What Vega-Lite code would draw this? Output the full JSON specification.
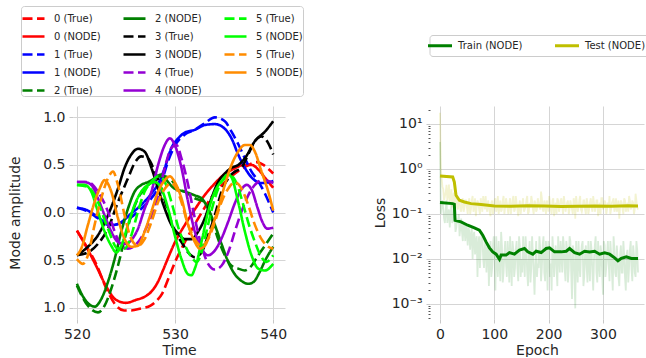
{
 "$schema": "https://vega.github.io/schema/vega-lite/v6.json",
 "padding": {"left": 8, "top": 5, "right": 0, "bottom": 0},
 "bounds": "flush",
 "spacing": 145,
 "config": {
  "font": "DejaVu Sans",
  "view": {"stroke": null},
  "axis": {"domain": false, "gridColor": "#d5d5d5", "gridWidth": 1, "tickColor": "#c8c8c8", "tickSize": 4, "labelFontSize": 14, "labelColor": "#262626", "titleFontSize": 14, "titleFontWeight": "normal", "titleColor": "#262626", "labelPadding": 4}
 },
 "resolve": {"scale": {"x": "independent", "y": "independent", "color": "independent", "strokeDash": "independent"}},
 "hconcat": [
  {
   "width": 212, "height": 213,
   "data": {"values": [
    {"series":"0 (True)","t":520,"amp":-0.19},{"series":"0 (True)","t":521,"amp":-0.36},{"series":"0 (True)","t":522,"amp":-0.55},{"series":"0 (True)","t":523,"amp":-0.8},{"series":"0 (True)","t":524,"amp":-0.98},{"series":"0 (True)","t":524.8,"amp":-1.03},{"series":"0 (True)","t":525.5,"amp":-1.03},{"series":"0 (True)","t":526.5,"amp":-1.01},{"series":"0 (True)","t":527.5,"amp":-0.98},{"series":"0 (True)","t":528.2,"amp":-0.92},{"series":"0 (True)","t":528.7,"amp":-0.85},{"series":"0 (True)","t":529.3,"amp":-0.7},{"series":"0 (True)","t":530,"amp":-0.52},{"series":"0 (True)","t":530.8,"amp":-0.35},{"series":"0 (True)","t":531.7,"amp":-0.18},{"series":"0 (True)","t":532.6,"amp":-0.02},{"series":"0 (True)","t":533.5,"amp":0.13},{"series":"0 (True)","t":534.5,"amp":0.26},{"series":"0 (True)","t":535.5,"amp":0.36},{"series":"0 (True)","t":536.5,"amp":0.44},{"series":"0 (True)","t":537.5,"amp":0.5},{"series":"0 (True)","t":538.3,"amp":0.53},{"series":"0 (True)","t":539,"amp":0.5},{"series":"0 (True)","t":539.6,"amp":0.45},{"series":"0 (True)","t":540,"amp":0.41},
    {"series":"0 (NODE)","t":520,"amp":-0.19},{"series":"0 (NODE)","t":521,"amp":-0.37},{"series":"0 (NODE)","t":522,"amp":-0.57},{"series":"0 (NODE)","t":523,"amp":-0.78},{"series":"0 (NODE)","t":524,"amp":-0.92},{"series":"0 (NODE)","t":525,"amp":-0.95},{"series":"0 (NODE)","t":526,"amp":-0.92},{"series":"0 (NODE)","t":527,"amp":-0.88},{"series":"0 (NODE)","t":527.6,"amp":-0.83},{"series":"0 (NODE)","t":528.2,"amp":-0.74},{"series":"0 (NODE)","t":528.8,"amp":-0.6},{"series":"0 (NODE)","t":529.4,"amp":-0.45},{"series":"0 (NODE)","t":530,"amp":-0.31},{"series":"0 (NODE)","t":531,"amp":-0.13},{"series":"0 (NODE)","t":532,"amp":0.03},{"series":"0 (NODE)","t":533,"amp":0.18},{"series":"0 (NODE)","t":534,"amp":0.3},{"series":"0 (NODE)","t":535,"amp":0.4},{"series":"0 (NODE)","t":536,"amp":0.46},{"series":"0 (NODE)","t":537,"amp":0.5},{"series":"0 (NODE)","t":537.8,"amp":0.5},{"series":"0 (NODE)","t":538.5,"amp":0.45},{"series":"0 (NODE)","t":539.2,"amp":0.36},{"series":"0 (NODE)","t":540,"amp":0.26},
    {"series":"1 (True)","t":520,"amp":0.05},{"series":"1 (True)","t":521.12,"amp":0.01},{"series":"1 (True)","t":522.14,"amp":-0.06},{"series":"1 (True)","t":523.16,"amp":-0.13},{"series":"1 (True)","t":524.18,"amp":-0.12},{"series":"1 (True)","t":525.54,"amp":-0.05},{"series":"1 (True)","t":526.56,"amp":0.04},{"series":"1 (True)","t":527.59,"amp":0.15},{"series":"1 (True)","t":528.61,"amp":0.32},{"series":"1 (True)","t":529.29,"amp":0.54},{"series":"1 (True)","t":529.97,"amp":0.7},{"series":"1 (True)","t":530.99,"amp":0.82},{"series":"1 (True)","t":532.01,"amp":0.87},{"series":"1 (True)","t":533.03,"amp":0.94},{"series":"1 (True)","t":534.05,"amp":1.0},{"series":"1 (True)","t":535.07,"amp":0.96},{"series":"1 (True)","t":535.75,"amp":0.85},{"series":"1 (True)","t":536.43,"amp":0.72},{"series":"1 (True)","t":537.11,"amp":0.57},{"series":"1 (True)","t":537.79,"amp":0.43},{"series":"1 (True)","t":538.47,"amp":0.33},{"series":"1 (True)","t":539.15,"amp":0.2},{"series":"1 (True)","t":540,"amp":0.0},
    {"series":"1 (NODE)","t":520,"amp":0.05},{"series":"1 (NODE)","t":521.12,"amp":0.02},{"series":"1 (NODE)","t":522.14,"amp":-0.05},{"series":"1 (NODE)","t":523.16,"amp":-0.12},{"series":"1 (NODE)","t":523.84,"amp":-0.13},{"series":"1 (NODE)","t":524.52,"amp":-0.1},{"series":"1 (NODE)","t":525.54,"amp":-0.01},{"series":"1 (NODE)","t":526.56,"amp":0.08},{"series":"1 (NODE)","t":527.59,"amp":0.2},{"series":"1 (NODE)","t":528.27,"amp":0.3},{"series":"1 (NODE)","t":528.95,"amp":0.47},{"series":"1 (NODE)","t":529.63,"amp":0.68},{"series":"1 (NODE)","t":530.31,"amp":0.78},{"series":"1 (NODE)","t":530.99,"amp":0.84},{"series":"1 (NODE)","t":532.01,"amp":0.87},{"series":"1 (NODE)","t":533.03,"amp":0.92},{"series":"1 (NODE)","t":534.05,"amp":0.93},{"series":"1 (NODE)","t":535.07,"amp":0.88},{"series":"1 (NODE)","t":535.75,"amp":0.78},{"series":"1 (NODE)","t":536.43,"amp":0.61},{"series":"1 (NODE)","t":537.11,"amp":0.47},{"series":"1 (NODE)","t":537.79,"amp":0.37},{"series":"1 (NODE)","t":538.81,"amp":0.31},{"series":"1 (NODE)","t":540,"amp":0.33},
    {"series":"2 (True)","t":520,"amp":-0.77},{"series":"2 (True)","t":521.12,"amp":-0.98},{"series":"2 (True)","t":522.14,"amp":-1.05},{"series":"2 (True)","t":522.82,"amp":-0.98},{"series":"2 (True)","t":523.5,"amp":-0.8},{"series":"2 (True)","t":524.18,"amp":-0.56},{"series":"2 (True)","t":524.86,"amp":-0.28},{"series":"2 (True)","t":525.54,"amp":-0.03},{"series":"2 (True)","t":526.22,"amp":0.15},{"series":"2 (True)","t":526.9,"amp":0.25},{"series":"2 (True)","t":527.59,"amp":0.32},{"series":"2 (True)","t":528.27,"amp":0.38},{"series":"2 (True)","t":528.95,"amp":0.38},{"series":"2 (True)","t":529.63,"amp":0.34},{"series":"2 (True)","t":530.31,"amp":0.25},{"series":"2 (True)","t":530.99,"amp":0.22},{"series":"2 (True)","t":532.01,"amp":0.15},{"series":"2 (True)","t":533.03,"amp":0.11},{"series":"2 (True)","t":533.71,"amp":-0.06},{"series":"2 (True)","t":534.39,"amp":-0.28},{"series":"2 (True)","t":535.07,"amp":-0.45},{"series":"2 (True)","t":535.75,"amp":-0.56},{"series":"2 (True)","t":536.43,"amp":-0.59},{"series":"2 (True)","t":537.11,"amp":-0.61},{"series":"2 (True)","t":537.79,"amp":-0.56},{"series":"2 (True)","t":538.47,"amp":-0.45},{"series":"2 (True)","t":539.15,"amp":-0.35},{"series":"2 (True)","t":540,"amp":-0.22},
    {"series":"2 (NODE)","t":520,"amp":-0.75},{"series":"2 (NODE)","t":520.78,"amp":-0.91},{"series":"2 (NODE)","t":521.46,"amp":-0.98},{"series":"2 (NODE)","t":521.8,"amp":-0.99},{"series":"2 (NODE)","t":522.48,"amp":-0.91},{"series":"2 (NODE)","t":523.16,"amp":-0.73},{"series":"2 (NODE)","t":523.84,"amp":-0.49},{"series":"2 (NODE)","t":524.52,"amp":-0.2},{"series":"2 (NODE)","t":525.2,"amp":0.04},{"series":"2 (NODE)","t":525.88,"amp":0.22},{"series":"2 (NODE)","t":526.56,"amp":0.29},{"series":"2 (NODE)","t":527.24,"amp":0.32},{"series":"2 (NODE)","t":527.93,"amp":0.36},{"series":"2 (NODE)","t":528.61,"amp":0.4},{"series":"2 (NODE)","t":529.29,"amp":0.32},{"series":"2 (NODE)","t":529.97,"amp":0.25},{"series":"2 (NODE)","t":530.99,"amp":0.22},{"series":"2 (NODE)","t":532.01,"amp":0.18},{"series":"2 (NODE)","t":532.69,"amp":0.15},{"series":"2 (NODE)","t":533.37,"amp":0.04},{"series":"2 (NODE)","t":534.05,"amp":-0.13},{"series":"2 (NODE)","t":534.73,"amp":-0.33},{"series":"2 (NODE)","t":535.41,"amp":-0.52},{"series":"2 (NODE)","t":536.09,"amp":-0.65},{"series":"2 (NODE)","t":536.77,"amp":-0.72},{"series":"2 (NODE)","t":537.45,"amp":-0.75},{"series":"2 (NODE)","t":538,"amp":-0.73},{"series":"2 (NODE)","t":538.6,"amp":-0.63},{"series":"2 (NODE)","t":539.2,"amp":-0.5},{"series":"2 (NODE)","t":540,"amp":-0.36},
    {"series":"3 (True)","t":520,"amp":-0.45},{"series":"3 (True)","t":521.12,"amp":-0.42},{"series":"3 (True)","t":522.14,"amp":-0.33},{"series":"3 (True)","t":523.16,"amp":-0.17},{"series":"3 (True)","t":524.18,"amp":0.11},{"series":"3 (True)","t":525.2,"amp":0.36},{"series":"3 (True)","t":525.88,"amp":0.52},{"series":"3 (True)","t":526.56,"amp":0.59},{"series":"3 (True)","t":527.24,"amp":0.57},{"series":"3 (True)","t":527.93,"amp":0.43},{"series":"3 (True)","t":528.61,"amp":0.25},{"series":"3 (True)","t":529.29,"amp":0.01},{"series":"3 (True)","t":529.97,"amp":-0.2},{"series":"3 (True)","t":530.65,"amp":-0.31},{"series":"3 (True)","t":531.33,"amp":-0.42},{"series":"3 (True)","t":532.01,"amp":-0.47},{"series":"3 (True)","t":532.69,"amp":-0.42},{"series":"3 (True)","t":533.37,"amp":-0.24},{"series":"3 (True)","t":534.05,"amp":-0.03},{"series":"3 (True)","t":534.73,"amp":0.22},{"series":"3 (True)","t":535.41,"amp":0.36},{"series":"3 (True)","t":536.09,"amp":0.43},{"series":"3 (True)","t":536.77,"amp":0.47},{"series":"3 (True)","t":537.45,"amp":0.61},{"series":"3 (True)","t":538.13,"amp":0.75},{"series":"3 (True)","t":538.81,"amp":0.8},{"series":"3 (True)","t":539.49,"amp":0.73},{"series":"3 (True)","t":540,"amp":0.61},
    {"series":"3 (NODE)","t":520,"amp":-0.45},{"series":"3 (NODE)","t":521.12,"amp":-0.36},{"series":"3 (NODE)","t":522.14,"amp":-0.24},{"series":"3 (NODE)","t":523.16,"amp":-0.03},{"series":"3 (NODE)","t":524.18,"amp":0.25},{"series":"3 (NODE)","t":524.86,"amp":0.47},{"series":"3 (NODE)","t":525.54,"amp":0.61},{"series":"3 (NODE)","t":526.22,"amp":0.67},{"series":"3 (NODE)","t":526.9,"amp":0.64},{"series":"3 (NODE)","t":527.59,"amp":0.47},{"series":"3 (NODE)","t":528.27,"amp":0.25},{"series":"3 (NODE)","t":528.95,"amp":0.04},{"series":"3 (NODE)","t":529.63,"amp":-0.13},{"series":"3 (NODE)","t":530.31,"amp":-0.22},{"series":"3 (NODE)","t":530.99,"amp":-0.28},{"series":"3 (NODE)","t":531.67,"amp":-0.28},{"series":"3 (NODE)","t":532.35,"amp":-0.2},{"series":"3 (NODE)","t":533.03,"amp":-0.06},{"series":"3 (NODE)","t":533.71,"amp":0.15},{"series":"3 (NODE)","t":534.39,"amp":0.32},{"series":"3 (NODE)","t":535.07,"amp":0.41},{"series":"3 (NODE)","t":535.75,"amp":0.47},{"series":"3 (NODE)","t":536.43,"amp":0.5},{"series":"3 (NODE)","t":537.11,"amp":0.57},{"series":"3 (NODE)","t":538.13,"amp":0.75},{"series":"3 (NODE)","t":539.15,"amp":0.85},{"series":"3 (NODE)","t":540,"amp":0.96},
    {"series":"4 (True)","t":520,"amp":0.32},{"series":"4 (True)","t":521.12,"amp":0.32},{"series":"4 (True)","t":522.14,"amp":0.22},{"series":"4 (True)","t":523.16,"amp":0.01},{"series":"4 (True)","t":523.84,"amp":-0.2},{"series":"4 (True)","t":524.52,"amp":-0.35},{"series":"4 (True)","t":525.2,"amp":-0.38},{"series":"4 (True)","t":525.88,"amp":-0.35},{"series":"4 (True)","t":526.9,"amp":-0.2},{"series":"4 (True)","t":527.59,"amp":-0.03},{"series":"4 (True)","t":528.27,"amp":0.18},{"series":"4 (True)","t":528.95,"amp":0.47},{"series":"4 (True)","t":529.63,"amp":0.68},{"series":"4 (True)","t":530.14,"amp":0.71},{"series":"4 (True)","t":530.65,"amp":0.57},{"series":"4 (True)","t":531.33,"amp":0.29},{"series":"4 (True)","t":532.01,"amp":-0.06},{"series":"4 (True)","t":532.69,"amp":-0.35},{"series":"4 (True)","t":533.37,"amp":-0.54},{"series":"4 (True)","t":534.05,"amp":-0.6},{"series":"4 (True)","t":534.73,"amp":-0.56},{"series":"4 (True)","t":535.41,"amp":-0.42},{"series":"4 (True)","t":536.09,"amp":-0.2},{"series":"4 (True)","t":536.77,"amp":0.01},{"series":"4 (True)","t":537.45,"amp":0.18},{"series":"4 (True)","t":538.13,"amp":0.29},{"series":"4 (True)","t":538.81,"amp":0.34},{"series":"4 (True)","t":539.49,"amp":0.33},{"series":"4 (True)","t":540,"amp":0.31},
    {"series":"4 (NODE)","t":520,"amp":0.32},{"series":"4 (NODE)","t":520.78,"amp":0.32},{"series":"4 (NODE)","t":521.46,"amp":0.29},{"series":"4 (NODE)","t":522.14,"amp":0.15},{"series":"4 (NODE)","t":522.82,"amp":-0.03},{"series":"4 (NODE)","t":523.5,"amp":-0.2},{"series":"4 (NODE)","t":524.18,"amp":-0.31},{"series":"4 (NODE)","t":524.86,"amp":-0.33},{"series":"4 (NODE)","t":525.54,"amp":-0.29},{"series":"4 (NODE)","t":526.22,"amp":-0.17},{"series":"4 (NODE)","t":526.9,"amp":0.04},{"series":"4 (NODE)","t":527.59,"amp":0.22},{"series":"4 (NODE)","t":528.27,"amp":0.5},{"series":"4 (NODE)","t":528.95,"amp":0.71},{"series":"4 (NODE)","t":529.46,"amp":0.78},{"series":"4 (NODE)","t":529.97,"amp":0.71},{"series":"4 (NODE)","t":530.65,"amp":0.47},{"series":"4 (NODE)","t":531.33,"amp":0.11},{"series":"4 (NODE)","t":532.01,"amp":-0.2},{"series":"4 (NODE)","t":532.69,"amp":-0.38},{"series":"4 (NODE)","t":533.37,"amp":-0.45},{"series":"4 (NODE)","t":534.05,"amp":-0.4},{"series":"4 (NODE)","t":534.7,"amp":-0.28},{"series":"4 (NODE)","t":535.4,"amp":-0.1},{"series":"4 (NODE)","t":536.1,"amp":0.1},{"series":"4 (NODE)","t":536.8,"amp":0.25},{"series":"4 (NODE)","t":537.3,"amp":0.29},{"series":"4 (NODE)","t":537.8,"amp":0.24},{"series":"4 (NODE)","t":538.4,"amp":0.05},{"series":"4 (NODE)","t":538.9,"amp":-0.1},{"series":"4 (NODE)","t":539.4,"amp":-0.17},{"series":"4 (NODE)","t":540,"amp":-0.16},
    {"series":"5 (True)","t":520,"amp":0.29},{"series":"5 (True)","t":521.12,"amp":0.27},{"series":"5 (True)","t":522.14,"amp":0.11},{"series":"5 (True)","t":523.16,"amp":-0.17},{"series":"5 (True)","t":524.18,"amp":-0.38},{"series":"5 (True)","t":524.86,"amp":-0.38},{"series":"5 (True)","t":525.54,"amp":-0.24},{"series":"5 (True)","t":526.22,"amp":0.01},{"series":"5 (True)","t":526.9,"amp":0.22},{"series":"5 (True)","t":527.59,"amp":0.32},{"series":"5 (True)","t":528.27,"amp":0.38},{"series":"5 (True)","t":528.95,"amp":0.32},{"series":"5 (True)","t":529.63,"amp":0.11},{"series":"5 (True)","t":530.31,"amp":-0.15},{"series":"5 (True)","t":530.99,"amp":-0.34},{"series":"5 (True)","t":531.67,"amp":-0.47},{"series":"5 (True)","t":532.2,"amp":-0.52},{"series":"5 (True)","t":532.7,"amp":-0.42},{"series":"5 (True)","t":533.2,"amp":-0.2},{"series":"5 (True)","t":533.71,"amp":0.02},{"series":"5 (True)","t":534.39,"amp":0.25},{"series":"5 (True)","t":535.07,"amp":0.36},{"series":"5 (True)","t":535.75,"amp":0.38},{"series":"5 (True)","t":536.3,"amp":0.3},{"series":"5 (True)","t":536.9,"amp":0.1},{"series":"5 (True)","t":537.5,"amp":-0.12},{"series":"5 (True)","t":538.1,"amp":-0.3},{"series":"5 (True)","t":538.7,"amp":-0.45},{"series":"5 (True)","t":539.3,"amp":-0.52},{"series":"5 (True)","t":540,"amp":-0.45},
    {"series":"5 (NODE)","t":520,"amp":0.29},{"series":"5 (NODE)","t":520.78,"amp":0.29},{"series":"5 (NODE)","t":521.46,"amp":0.22},{"series":"5 (NODE)","t":522.14,"amp":0.01},{"series":"5 (NODE)","t":522.82,"amp":-0.2},{"series":"5 (NODE)","t":523.5,"amp":-0.35},{"series":"5 (NODE)","t":524.01,"amp":-0.42},{"series":"5 (NODE)","t":524.52,"amp":-0.35},{"series":"5 (NODE)","t":525.2,"amp":-0.13},{"series":"5 (NODE)","t":525.88,"amp":0.08},{"series":"5 (NODE)","t":526.56,"amp":0.22},{"series":"5 (NODE)","t":527.24,"amp":0.29},{"series":"5 (NODE)","t":527.93,"amp":0.32},{"series":"5 (NODE)","t":528.61,"amp":0.25},{"series":"5 (NODE)","t":529.29,"amp":0.04},{"series":"5 (NODE)","t":529.97,"amp":-0.24},{"series":"5 (NODE)","t":530.65,"amp":-0.49},{"series":"5 (NODE)","t":531.33,"amp":-0.65},{"series":"5 (NODE)","t":531.67,"amp":-0.66},{"series":"5 (NODE)","t":532.01,"amp":-0.59},{"series":"5 (NODE)","t":532.69,"amp":-0.31},{"series":"5 (NODE)","t":533.37,"amp":0.01},{"series":"5 (NODE)","t":534.05,"amp":0.22},{"series":"5 (NODE)","t":534.73,"amp":0.33},{"series":"5 (NODE)","t":535.41,"amp":0.4},{"series":"5 (NODE)","t":535.75,"amp":0.37},{"series":"5 (NODE)","t":536.43,"amp":0.11},{"series":"5 (NODE)","t":537.11,"amp":-0.2},{"series":"5 (NODE)","t":537.79,"amp":-0.45},{"series":"5 (NODE)","t":538.47,"amp":-0.59},{"series":"5 (NODE)","t":539.15,"amp":-0.61},{"series":"5 (NODE)","t":540,"amp":-0.54},
    {"series":"5b (True)","t":520,"amp":-0.49},{"series":"5b (True)","t":520.61,"amp":-0.54},{"series":"5b (True)","t":521.12,"amp":-0.45},{"series":"5b (True)","t":521.8,"amp":-0.13},{"series":"5b (True)","t":522.48,"amp":0.15},{"series":"5b (True)","t":523.16,"amp":0.36},{"series":"5b (True)","t":523.67,"amp":0.43},{"series":"5b (True)","t":524.18,"amp":0.29},{"series":"5b (True)","t":524.86,"amp":-0.03},{"series":"5b (True)","t":525.54,"amp":-0.28},{"series":"5b (True)","t":526.22,"amp":-0.35},{"series":"5b (True)","t":526.9,"amp":-0.28},{"series":"5b (True)","t":527.59,"amp":-0.1},{"series":"5b (True)","t":528.27,"amp":0.11},{"series":"5b (True)","t":528.95,"amp":0.25},{"series":"5b (True)","t":529.63,"amp":0.31},{"series":"5b (True)","t":530.14,"amp":0.25},{"series":"5b (True)","t":530.65,"amp":0.11},{"series":"5b (True)","t":531.33,"amp":-0.13},{"series":"5b (True)","t":532.01,"amp":-0.28},{"series":"5b (True)","t":532.69,"amp":-0.35},{"series":"5b (True)","t":533.37,"amp":-0.28},{"series":"5b (True)","t":534.05,"amp":-0.1},{"series":"5b (True)","t":534.73,"amp":0.11},{"series":"5b (True)","t":535.41,"amp":0.25},{"series":"5b (True)","t":536.09,"amp":0.32},{"series":"5b (True)","t":536.77,"amp":0.25},{"series":"5b (True)","t":537.45,"amp":0.08},{"series":"5b (True)","t":538.13,"amp":-0.13},{"series":"5b (True)","t":538.81,"amp":-0.28},{"series":"5b (True)","t":539.49,"amp":-0.36},{"series":"5b (True)","t":540,"amp":-0.38},
    {"series":"5b (NODE)","t":520,"amp":-0.45},{"series":"5b (NODE)","t":520.44,"amp":-0.38},{"series":"5b (NODE)","t":521.12,"amp":-0.13},{"series":"5b (NODE)","t":521.8,"amp":0.11},{"series":"5b (NODE)","t":522.31,"amp":0.25},{"series":"5b (NODE)","t":522.82,"amp":0.34},{"series":"5b (NODE)","t":523.5,"amp":0.22},{"series":"5b (NODE)","t":524.18,"amp":-0.06},{"series":"5b (NODE)","t":524.86,"amp":-0.28},{"series":"5b (NODE)","t":525.54,"amp":-0.36},{"series":"5b (NODE)","t":526.22,"amp":-0.35},{"series":"5b (NODE)","t":526.9,"amp":-0.2},{"series":"5b (NODE)","t":527.59,"amp":0.01},{"series":"5b (NODE)","t":528.27,"amp":0.22},{"series":"5b (NODE)","t":528.95,"amp":0.34},{"series":"5b (NODE)","t":529.46,"amp":0.38},{"series":"5b (NODE)","t":529.97,"amp":0.32},{"series":"5b (NODE)","t":530.65,"amp":0.15},{"series":"5b (NODE)","t":531.33,"amp":-0.13},{"series":"5b (NODE)","t":532.01,"amp":-0.31},{"series":"5b (NODE)","t":532.52,"amp":-0.38},{"series":"5b (NODE)","t":533.03,"amp":-0.35},{"series":"5b (NODE)","t":533.71,"amp":-0.17},{"series":"5b (NODE)","t":534.39,"amp":0.04},{"series":"5b (NODE)","t":535.07,"amp":0.29},{"series":"5b (NODE)","t":535.75,"amp":0.5},{"series":"5b (NODE)","t":536.43,"amp":0.64},{"series":"5b (NODE)","t":537.11,"amp":0.71},{"series":"5b (NODE)","t":537.62,"amp":0.71},{"series":"5b (NODE)","t":538.13,"amp":0.64},{"series":"5b (NODE)","t":538.81,"amp":0.43},{"series":"5b (NODE)","t":539.49,"amp":0.22},{"series":"5b (NODE)","t":540,"amp":0.02}
   ]},
   "mark": {"type": "line", "interpolate": "monotone", "strokeWidth": 2.6, "clip": true},
   "encoding": {
    "x": {"field": "t", "type": "quantitative", "scale": {"domain": [519.6, 541.2], "nice": false, "zero": false}, "axis": {"values": [520, 530, 540], "title": "Time", "titlePadding": 2}},
    "y": {"field": "amp", "type": "quantitative", "scale": {"domain": [-1.12, 1.12], "nice": false}, "axis": {"values": [-1, -0.5, 0, 0.5, 1], "labelExpr": "format(abs(datum.value), '.1f')", "title": "Mode amplitude", "titlePadding": 20}},
    "color": {"field": "series", "type": "nominal",
     "scale": {"domain": ["0 (True)","0 (NODE)","1 (True)","1 (NODE)","2 (True)","2 (NODE)","3 (True)","3 (NODE)","4 (True)","4 (NODE)","5 (True)","5 (NODE)","5b (True)","5b (NODE)"],
      "range": ["#ff0000","#ff0000","#0000ff","#0000ff","#008000","#008000","#000000","#000000","#9400d3","#9400d3","#00ff00","#00ff00","#ff8c00","#ff8c00"]},
     "legend": {"orient": "none", "legendX": -52, "legendY": -100, "columns": 3, "title": null, "symbolType": "stroke", "symbolStrokeWidth": 2.6, "symbolSize": 484, "labelFontSize": 10, "labelColor": "#262626", "labelExpr": "replace(datum.label, 'b', '')", "strokeColor": "#cccccc", "fillColor": "white", "cornerRadius": 3, "padding": 0, "rowPadding": -11, "columnPadding": 17, "labelOffset": 8}},
    "strokeDash": {"field": "series", "type": "nominal",
     "scale": {"domain": ["0 (True)","0 (NODE)","1 (True)","1 (NODE)","2 (True)","2 (NODE)","3 (True)","3 (NODE)","4 (True)","4 (NODE)","5 (True)","5 (NODE)","5b (True)","5b (NODE)"],
      "range": [[10,4.5],[1,0],[10,4.5],[1,0],[10,4.5],[1,0],[10,4.5],[1,0],[10,4.5],[1,0],[10,4.5],[1,0],[10,4.5],[1,0]]}}
   }
  },
  {
   "width": 214, "height": 213,
   "encoding": {
    "x": {"field": "epoch", "type": "quantitative", "scale": {"domain": [-18.4, 375.5], "nice": false, "zero": false}, "axis": {"values": [0, 100, 200, 300], "title": "Epoch", "titlePadding": 2}},
    "y": {"field": "loss", "type": "quantitative", "scale": {"type": "log", "domain": [0.000464, 25.1], "nice": false},
     "axis": {"values": [0.0005,0.0006,0.0007,0.0008,0.0009,0.001,0.002,0.003,0.004,0.005,0.006,0.007,0.008,0.009,0.01,0.02,0.03,0.04,0.05,0.06,0.07,0.08,0.09,0.1,0.2,0.3,0.4,0.5,0.6,0.7,0.8,0.9,1,2,3,4,5,6,7,8,9,10,20],
      "labelExpr": "abs(log(datum.value)/LN10 - round(log(datum.value)/LN10)) > 0.001 ? '' : datum.value >= 9 ? '10¹' : datum.value >= 0.9 ? '10⁰' : datum.value >= 0.09 ? '10⁻¹' : datum.value >= 0.009 ? '10⁻²' : '10⁻³'",
      "tickSize": {"condition": {"test": "abs(log(datum.value)/LN10 - round(log(datum.value)/LN10)) > 0.001", "value": 2}, "value": 4},
      "tickColor": {"condition": {"test": "abs(log(datum.value)/LN10 - round(log(datum.value)/LN10)) > 0.001", "value": "#555555"}, "value": "#c8c8c8"},
      "gridOpacity": {"condition": {"test": "abs(log(datum.value)/LN10 - round(log(datum.value)/LN10)) > 0.001", "value": 0}, "value": 1},
      "title": "Loss"}}
   },
   "layer": [
    {"data": {"values": [
     {"epoch":0,"loss":4.0},{"epoch":3,"loss":0.158},{"epoch":6,"loss":0.126},{"epoch":9,"loss":0.063},{"epoch":12,"loss":0.2},{"epoch":15,"loss":0.1},{"epoch":18,"loss":0.05},{"epoch":21,"loss":0.158},{"epoch":24,"loss":0.079},{"epoch":27,"loss":0.1},{"epoch":30,"loss":0.05},{"epoch":33,"loss":0.063},{"epoch":36,"loss":0.032},{"epoch":39,"loss":0.079},{"epoch":42,"loss":0.025},{"epoch":45,"loss":0.05},{"epoch":48,"loss":0.063},{"epoch":51,"loss":0.02},{"epoch":54,"loss":0.04},{"epoch":57,"loss":0.032},{"epoch":60,"loss":0.01},{"epoch":63,"loss":0.04},{"epoch":66,"loss":0.025},{"epoch":69,"loss":0.004},{"epoch":72,"loss":0.032},{"epoch":75,"loss":0.016},{"epoch":78,"loss":0.032},{"epoch":81,"loss":0.0063},{"epoch":84,"loss":0.025},{"epoch":87,"loss":0.016},{"epoch":90,"loss":0.0025},{"epoch":93,"loss":0.025},{"epoch":96,"loss":0.0063},{"epoch":99,"loss":0.032},{"epoch":102,"loss":0.002},{"epoch":105,"loss":0.01},{"epoch":108,"loss":0.025},{"epoch":111,"loss":0.0032},{"epoch":114,"loss":0.02},{"epoch":117,"loss":0.005},{"epoch":120,"loss":0.025},{"epoch":123,"loss":0.004},{"epoch":126,"loss":0.0126},{"epoch":129,"loss":0.032},{"epoch":132,"loss":0.0025},{"epoch":135,"loss":0.016},{"epoch":138,"loss":0.0063},{"epoch":141,"loss":0.025},{"epoch":144,"loss":0.0032},{"epoch":147,"loss":0.02},{"epoch":150,"loss":0.01},{"epoch":153,"loss":0.032},{"epoch":156,"loss":0.004},{"epoch":159,"loss":0.016},{"epoch":162,"loss":0.0025},{"epoch":165,"loss":0.025},{"epoch":168,"loss":0.0063},{"epoch":171,"loss":0.0126},{"epoch":174,"loss":0.0016},{"epoch":177,"loss":0.025},{"epoch":180,"loss":0.0079},{"epoch":183,"loss":0.032},{"epoch":186,"loss":0.0032},{"epoch":189,"loss":0.02},{"epoch":192,"loss":0.005},{"epoch":195,"loss":0.025},{"epoch":198,"loss":0.002},{"epoch":201,"loss":0.016},{"epoch":204,"loss":0.0079},{"epoch":207,"loss":0.032},{"epoch":210,"loss":0.004},{"epoch":213,"loss":0.02},{"epoch":216,"loss":0.0025},{"epoch":219,"loss":0.0126},{"epoch":222,"loss":0.025},{"epoch":225,"loss":0.005},{"epoch":228,"loss":0.02},{"epoch":231,"loss":0.0032},{"epoch":234,"loss":0.016},{"epoch":237,"loss":0.0063},{"epoch":240,"loss":0.025},{"epoch":243,"loss":0.0013},{"epoch":246,"loss":0.016},{"epoch":249,"loss":0.0008},{"epoch":252,"loss":0.01},{"epoch":255,"loss":0.025},{"epoch":258,"loss":0.004},{"epoch":261,"loss":0.02},{"epoch":264,"loss":0.0025},{"epoch":267,"loss":0.0126},{"epoch":270,"loss":0.0063},{"epoch":273,"loss":0.025},{"epoch":276,"loss":0.0032},{"epoch":279,"loss":0.016},{"epoch":282,"loss":0.002},{"epoch":285,"loss":0.02},{"epoch":288,"loss":0.005},{"epoch":291,"loss":0.025},{"epoch":294,"loss":0.004},{"epoch":297,"loss":0.0126},{"epoch":300,"loss":0.0016},{"epoch":303,"loss":0.02},{"epoch":306,"loss":0.0063},{"epoch":309,"loss":0.025},{"epoch":312,"loss":0.0032},{"epoch":315,"loss":0.0126},{"epoch":318,"loss":0.002},{"epoch":321,"loss":0.016},{"epoch":324,"loss":0.004},{"epoch":327,"loss":0.01},{"epoch":330,"loss":0.0025},{"epoch":333,"loss":0.02},{"epoch":336,"loss":0.005},{"epoch":339,"loss":0.0126},{"epoch":342,"loss":0.002},{"epoch":345,"loss":0.016},{"epoch":348,"loss":0.0063},{"epoch":351,"loss":0.025},{"epoch":354,"loss":0.0032},{"epoch":357,"loss":0.0126},{"epoch":360,"loss":0.004},{"epoch":363,"loss":0.016},
     {"epoch":1.5,"loss":0.1},{"epoch":4.5,"loss":0.2},{"epoch":7.5,"loss":0.079},{"epoch":10.5,"loss":0.126},{"epoch":13.5,"loss":0.063},{"epoch":16.5,"loss":0.126},{"epoch":19.5,"loss":0.1},{"epoch":22.5,"loss":0.063},{"epoch":25.5,"loss":0.126},{"epoch":28.5,"loss":0.04},{"epoch":31.5,"loss":0.079},{"epoch":34.5,"loss":0.1},{"epoch":37.5,"loss":0.05},{"epoch":40.5,"loss":0.04},{"epoch":43.5,"loss":0.063},{"epoch":46.5,"loss":0.025},{"epoch":49.5,"loss":0.04},{"epoch":52.5,"loss":0.05},{"epoch":55.5,"loss":0.016},{"epoch":58.5,"loss":0.05},{"epoch":61.5,"loss":0.032},{"epoch":64.5,"loss":0.0126},{"epoch":67.5,"loss":0.032},{"epoch":70.5,"loss":0.02},{"epoch":73.5,"loss":0.0063},{"epoch":76.5,"loss":0.04},{"epoch":79.5,"loss":0.01},{"epoch":82.5,"loss":0.02},{"epoch":85.5,"loss":0.005},{"epoch":88.5,"loss":0.02},{"epoch":91.5,"loss":0.01},{"epoch":94.5,"loss":0.004},{"epoch":97.5,"loss":0.02},{"epoch":100.5,"loss":0.01},{"epoch":103.5,"loss":0.032},{"epoch":106.5,"loss":0.004},{"epoch":109.5,"loss":0.008},{"epoch":112.5,"loss":0.04},{"epoch":115.5,"loss":0.003},{"epoch":118.5,"loss":0.0126},{"epoch":121.5,"loss":0.008},{"epoch":124.5,"loss":0.025},{"epoch":127.5,"loss":0.003},{"epoch":130.5,"loss":0.01},{"epoch":133.5,"loss":0.025},{"epoch":136.5,"loss":0.004},{"epoch":139.5,"loss":0.016},{"epoch":142.5,"loss":0.0063},{"epoch":145.5,"loss":0.032},{"epoch":148.5,"loss":0.004},{"epoch":151.5,"loss":0.005},{"epoch":154.5,"loss":0.0126},{"epoch":157.5,"loss":0.032},{"epoch":160.5,"loss":0.005},{"epoch":163.5,"loss":0.0126},{"epoch":166.5,"loss":0.003},{"epoch":169.5,"loss":0.032},{"epoch":172.5,"loss":0.005},{"epoch":175.5,"loss":0.0079},{"epoch":178.5,"loss":0.004},{"epoch":181.5,"loss":0.0063},{"epoch":184.5,"loss":0.016},{"epoch":187.5,"loss":0.0063},{"epoch":190.5,"loss":0.032},{"epoch":193.5,"loss":0.0032},{"epoch":196.5,"loss":0.0126},{"epoch":199.5,"loss":0.025},{"epoch":202.5,"loss":0.004},{"epoch":205.5,"loss":0.002},{"epoch":208.5,"loss":0.016},{"epoch":211.5,"loss":0.0126},{"epoch":214.5,"loss":0.006},{"epoch":217.5,"loss":0.032},{"epoch":220.5,"loss":0.005},{"epoch":223.5,"loss":0.0126},{"epoch":226.5,"loss":0.032},{"epoch":229.5,"loss":0.006},{"epoch":232.5,"loss":0.025},{"epoch":235.5,"loss":0.003},{"epoch":238.5,"loss":0.032},{"epoch":241.5,"loss":0.005},{"epoch":244.5,"loss":0.02},{"epoch":247.5,"loss":0.004},{"epoch":250.5,"loss":0.025},{"epoch":253.5,"loss":0.003},{"epoch":256.5,"loss":0.008},{"epoch":259.5,"loss":0.0126},{"epoch":262.5,"loss":0.025},{"epoch":265.5,"loss":0.004},{"epoch":268.5,"loss":0.02},{"epoch":271.5,"loss":0.003},{"epoch":274.5,"loss":0.008},{"epoch":277.5,"loss":0.025},{"epoch":280.5,"loss":0.005},{"epoch":283.5,"loss":0.01},{"epoch":286.5,"loss":0.032},{"epoch":289.5,"loss":0.003},{"epoch":292.5,"loss":0.008},{"epoch":295.5,"loss":0.02},{"epoch":298.5,"loss":0.005},{"epoch":301.5,"loss":0.025},{"epoch":304.5,"loss":0.004},{"epoch":307.5,"loss":0.0126},{"epoch":310.5,"loss":0.008},{"epoch":313.5,"loss":0.025},{"epoch":316.5,"loss":0.005},{"epoch":319.5,"loss":0.032},{"epoch":322.5,"loss":0.005},{"epoch":325.5,"loss":0.02},{"epoch":328.5,"loss":0.004},{"epoch":331.5,"loss":0.0126},{"epoch":334.5,"loss":0.005},{"epoch":337.5,"loss":0.025},{"epoch":340.5,"loss":0.004},{"epoch":343.5,"loss":0.0126},{"epoch":346.5,"loss":0.003},{"epoch":349.5,"loss":0.016},{"epoch":352.5,"loss":0.006},{"epoch":355.5,"loss":0.02},{"epoch":358.5,"loss":0.005},{"epoch":361.5,"loss":0.025},{"epoch":364.5,"loss":0.005}
    ]},
     "mark": {"type": "line", "color": "#008000", "opacity": 0.15, "strokeWidth": 1.8, "clip": true}},
    {"data": {"values": [
     {"epoch":0,"loss":17.8},{"epoch":3,"loss":0.63},{"epoch":6,"loss":0.355},{"epoch":9,"loss":0.251},{"epoch":12,"loss":0.447},{"epoch":15,"loss":0.282},{"epoch":18,"loss":0.178},{"epoch":21,"loss":0.355},{"epoch":24,"loss":0.224},{"epoch":27,"loss":0.141},{"epoch":30,"loss":0.251},{"epoch":33,"loss":0.126},{"epoch":36,"loss":0.2},{"epoch":39,"loss":0.112},{"epoch":42,"loss":0.224},{"epoch":45,"loss":0.141},{"epoch":48,"loss":0.2},{"epoch":51,"loss":0.1},{"epoch":54,"loss":0.224},{"epoch":57,"loss":0.126},{"epoch":60,"loss":0.251},{"epoch":63,"loss":0.141},{"epoch":66,"loss":0.089},{"epoch":69,"loss":0.2},{"epoch":72,"loss":0.126},{"epoch":75,"loss":0.224},{"epoch":78,"loss":0.112},{"epoch":81,"loss":0.178},{"epoch":84,"loss":0.251},{"epoch":87,"loss":0.112},{"epoch":90,"loss":0.158},{"epoch":93,"loss":0.089},{"epoch":96,"loss":0.2},{"epoch":99,"loss":0.126},{"epoch":102,"loss":0.224},{"epoch":105,"loss":0.141},{"epoch":108,"loss":0.1},{"epoch":111,"loss":0.2},{"epoch":114,"loss":0.126},{"epoch":117,"loss":0.251},{"epoch":120,"loss":0.141},{"epoch":123,"loss":0.178},{"epoch":126,"loss":0.1},{"epoch":129,"loss":0.224},{"epoch":132,"loss":0.141},{"epoch":135,"loss":0.251},{"epoch":138,"loss":0.126},{"epoch":141,"loss":0.178},{"epoch":144,"loss":0.089},{"epoch":147,"loss":0.2},{"epoch":150,"loss":0.141},{"epoch":153,"loss":0.224},{"epoch":156,"loss":0.126},{"epoch":159,"loss":0.2},{"epoch":162,"loss":0.1},{"epoch":165,"loss":0.178},{"epoch":168,"loss":0.251},{"epoch":171,"loss":0.126},{"epoch":174,"loss":0.2},{"epoch":177,"loss":0.112},{"epoch":180,"loss":0.224},{"epoch":183,"loss":0.141},{"epoch":186,"loss":0.316},{"epoch":189,"loss":0.126},{"epoch":192,"loss":0.2},{"epoch":195,"loss":0.1},{"epoch":198,"loss":0.178},{"epoch":201,"loss":0.251},{"epoch":204,"loss":0.126},{"epoch":207,"loss":0.2},{"epoch":210,"loss":0.089},{"epoch":213,"loss":0.178},{"epoch":216,"loss":0.224},{"epoch":219,"loss":0.112},{"epoch":222,"loss":0.2},{"epoch":225,"loss":0.141},{"epoch":228,"loss":0.251},{"epoch":231,"loss":0.112},{"epoch":234,"loss":0.178},{"epoch":237,"loss":0.1},{"epoch":240,"loss":0.2},{"epoch":243,"loss":0.126},{"epoch":246,"loss":0.224},{"epoch":249,"loss":0.079},{"epoch":252,"loss":0.178},{"epoch":255,"loss":0.141},{"epoch":258,"loss":0.251},{"epoch":261,"loss":0.112},{"epoch":264,"loss":0.2},{"epoch":267,"loss":0.126},{"epoch":270,"loss":0.224},{"epoch":273,"loss":0.1},{"epoch":276,"loss":0.178},{"epoch":279,"loss":0.141},{"epoch":282,"loss":0.251},{"epoch":285,"loss":0.112},{"epoch":288,"loss":0.2},{"epoch":291,"loss":0.089},{"epoch":294,"loss":0.178},{"epoch":297,"loss":0.224},{"epoch":300,"loss":0.126},{"epoch":303,"loss":0.2},{"epoch":306,"loss":0.1},{"epoch":309,"loss":0.178},{"epoch":312,"loss":0.251},{"epoch":315,"loss":0.126},{"epoch":318,"loss":0.2},{"epoch":321,"loss":0.112},{"epoch":324,"loss":0.224},{"epoch":327,"loss":0.141},{"epoch":330,"loss":0.079},{"epoch":333,"loss":0.2},{"epoch":336,"loss":0.126},{"epoch":339,"loss":0.224},{"epoch":342,"loss":0.112},{"epoch":345,"loss":0.178},{"epoch":348,"loss":0.251},{"epoch":351,"loss":0.126},{"epoch":354,"loss":0.2},{"epoch":357,"loss":0.1},{"epoch":360,"loss":0.282},{"epoch":363,"loss":0.141},
     {"epoch":1.5,"loss":1.0},{"epoch":4.5,"loss":0.4},{"epoch":7.5,"loss":0.2},{"epoch":10.5,"loss":0.3},{"epoch":13.5,"loss":0.2},{"epoch":16.5,"loss":0.45},{"epoch":19.5,"loss":0.25},{"epoch":22.5,"loss":0.14},{"epoch":25.5,"loss":0.3},{"epoch":28.5,"loss":0.2},{"epoch":31.5,"loss":0.141},{"epoch":34.5,"loss":0.224},{"epoch":37.5,"loss":0.126},{"epoch":40.5,"loss":0.178},{"epoch":43.5,"loss":0.112},{"epoch":46.5,"loss":0.2},{"epoch":49.5,"loss":0.141},{"epoch":52.5,"loss":0.178},{"epoch":55.5,"loss":0.1},{"epoch":58.5,"loss":0.2},{"epoch":61.5,"loss":0.112},{"epoch":64.5,"loss":0.224},{"epoch":67.5,"loss":0.141},{"epoch":70.5,"loss":0.178},{"epoch":73.5,"loss":0.1},{"epoch":76.5,"loss":0.158},{"epoch":79.5,"loss":0.25},{"epoch":82.5,"loss":0.126},{"epoch":85.5,"loss":0.141},{"epoch":88.5,"loss":0.2},{"epoch":91.5,"loss":0.112},{"epoch":94.5,"loss":0.178},{"epoch":97.5,"loss":0.1},{"epoch":100.5,"loss":0.2},{"epoch":103.5,"loss":0.112},{"epoch":106.5,"loss":0.25},{"epoch":109.5,"loss":0.141},{"epoch":112.5,"loss":0.112},{"epoch":115.5,"loss":0.2},{"epoch":118.5,"loss":0.1},{"epoch":121.5,"loss":0.224},{"epoch":124.5,"loss":0.126},{"epoch":127.5,"loss":0.178},{"epoch":130.5,"loss":0.1},{"epoch":133.5,"loss":0.2},{"epoch":136.5,"loss":0.112},{"epoch":139.5,"loss":0.251},{"epoch":142.5,"loss":0.126},{"epoch":145.5,"loss":0.158},{"epoch":148.5,"loss":0.1},{"epoch":151.5,"loss":0.178},{"epoch":154.5,"loss":0.112},{"epoch":157.5,"loss":0.141},{"epoch":160.5,"loss":0.251},{"epoch":163.5,"loss":0.112},{"epoch":166.5,"loss":0.141},{"epoch":169.5,"loss":0.2},{"epoch":172.5,"loss":0.1},{"epoch":175.5,"loss":0.178},{"epoch":178.5,"loss":0.126},{"epoch":181.5,"loss":0.178},{"epoch":184.5,"loss":0.126},{"epoch":187.5,"loss":0.224},{"epoch":190.5,"loss":0.112},{"epoch":193.5,"loss":0.158},{"epoch":196.5,"loss":0.2},{"epoch":199.5,"loss":0.112},{"epoch":202.5,"loss":0.178},{"epoch":205.5,"loss":0.1},{"epoch":208.5,"loss":0.224},{"epoch":211.5,"loss":0.141},{"epoch":214.5,"loss":0.1},{"epoch":217.5,"loss":0.2},{"epoch":220.5,"loss":0.141},{"epoch":223.5,"loss":0.224},{"epoch":226.5,"loss":0.1},{"epoch":229.5,"loss":0.178},{"epoch":232.5,"loss":0.141},{"epoch":235.5,"loss":0.2},{"epoch":238.5,"loss":0.126},{"epoch":241.5,"loss":0.158},{"epoch":244.5,"loss":0.1},{"epoch":247.5,"loss":0.178},{"epoch":250.5,"loss":0.251},{"epoch":253.5,"loss":0.112},{"epoch":256.5,"loss":0.2},{"epoch":259.5,"loss":0.126},{"epoch":262.5,"loss":0.141},{"epoch":265.5,"loss":0.2},{"epoch":268.5,"loss":0.1},{"epoch":271.5,"loss":0.178},{"epoch":274.5,"loss":0.126},{"epoch":277.5,"loss":0.224},{"epoch":280.5,"loss":0.112},{"epoch":283.5,"loss":0.178},{"epoch":286.5,"loss":0.141},{"epoch":289.5,"loss":0.2},{"epoch":292.5,"loss":0.126},{"epoch":295.5,"loss":0.1},{"epoch":298.5,"loss":0.224},{"epoch":301.5,"loss":0.141},{"epoch":304.5,"loss":0.178},{"epoch":307.5,"loss":0.126},{"epoch":310.5,"loss":0.141},{"epoch":313.5,"loss":0.1},{"epoch":316.5,"loss":0.178},{"epoch":319.5,"loss":0.224},{"epoch":322.5,"loss":0.141},{"epoch":325.5,"loss":0.112},{"epoch":328.5,"loss":0.2},{"epoch":331.5,"loss":0.141},{"epoch":334.5,"loss":0.178},{"epoch":337.5,"loss":0.1},{"epoch":340.5,"loss":0.2},{"epoch":343.5,"loss":0.141},{"epoch":346.5,"loss":0.112},{"epoch":349.5,"loss":0.2},{"epoch":352.5,"loss":0.141},{"epoch":355.5,"loss":0.178},{"epoch":358.5,"loss":0.126},{"epoch":361.5,"loss":0.2},{"epoch":364.5,"loss":0.126}
    ]},
     "mark": {"type": "line", "color": "#bfbf00", "opacity": 0.18, "strokeWidth": 1.8, "clip": true}},
    {"data": {"values": [
     {"run":"Train (NODE)","epoch":0,"loss":0.179},{"run":"Train (NODE)","epoch":23.4,"loss":0.17},{"run":"Train (NODE)","epoch":26.4,"loss":0.165},{"run":"Train (NODE)","epoch":27.7,"loss":0.0727},{"run":"Train (NODE)","epoch":38.7,"loss":0.0668},{"run":"Train (NODE)","epoch":51,"loss":0.0563},{"run":"Train (NODE)","epoch":63.3,"loss":0.0491},{"run":"Train (NODE)","epoch":72.5,"loss":0.0436},{"run":"Train (NODE)","epoch":78.7,"loss":0.0338},{"run":"Train (NODE)","epoch":84.8,"loss":0.024},{"run":"Train (NODE)","epoch":91,"loss":0.0177},{"run":"Train (NODE)","epoch":97.1,"loss":0.0144},{"run":"Train (NODE)","epoch":103.3,"loss":0.0128},{"run":"Train (NODE)","epoch":109.4,"loss":0.0099},{"run":"Train (NODE)","epoch":112.5,"loss":0.0122},{"run":"Train (NODE)","epoch":121.7,"loss":0.0122},{"run":"Train (NODE)","epoch":127.8,"loss":0.0139},{"run":"Train (NODE)","epoch":137,"loss":0.0128},{"run":"Train (NODE)","epoch":146.3,"loss":0.0157},{"run":"Train (NODE)","epoch":155.5,"loss":0.0171},{"run":"Train (NODE)","epoch":161.6,"loss":0.0144},{"run":"Train (NODE)","epoch":170.9,"loss":0.0128},{"run":"Train (NODE)","epoch":177,"loss":0.0149},{"run":"Train (NODE)","epoch":186.2,"loss":0.0139},{"run":"Train (NODE)","epoch":195.4,"loss":0.0171},{"run":"Train (NODE)","epoch":201.6,"loss":0.0177},{"run":"Train (NODE)","epoch":210.8,"loss":0.0144},{"run":"Train (NODE)","epoch":223.1,"loss":0.0144},{"run":"Train (NODE)","epoch":232.3,"loss":0.0149},{"run":"Train (NODE)","epoch":238.5,"loss":0.0171},{"run":"Train (NODE)","epoch":247.7,"loss":0.0139},{"run":"Train (NODE)","epoch":256.9,"loss":0.0128},{"run":"Train (NODE)","epoch":266.1,"loss":0.0149},{"run":"Train (NODE)","epoch":275.4,"loss":0.0144},{"run":"Train (NODE)","epoch":284.6,"loss":0.0149},{"run":"Train (NODE)","epoch":293.8,"loss":0.0128},{"run":"Train (NODE)","epoch":303,"loss":0.0137},{"run":"Train (NODE)","epoch":312.2,"loss":0.0128},{"run":"Train (NODE)","epoch":321.5,"loss":0.0106},{"run":"Train (NODE)","epoch":327.6,"loss":0.0091},{"run":"Train (NODE)","epoch":333.7,"loss":0.0103},{"run":"Train (NODE)","epoch":343,"loss":0.0112},{"run":"Train (NODE)","epoch":352.2,"loss":0.0103},{"run":"Train (NODE)","epoch":364.5,"loss":0.0103},
     {"run":"Test (NODE)","epoch":0,"loss":0.7},{"run":"Test (NODE)","epoch":23.4,"loss":0.665},{"run":"Test (NODE)","epoch":26.4,"loss":0.515},{"run":"Test (NODE)","epoch":29.5,"loss":0.26},{"run":"Test (NODE)","epoch":35.6,"loss":0.202},{"run":"Test (NODE)","epoch":44.9,"loss":0.185},{"run":"Test (NODE)","epoch":57.2,"loss":0.17},{"run":"Test (NODE)","epoch":75.6,"loss":0.162},{"run":"Test (NODE)","epoch":100.2,"loss":0.151},{"run":"Test (NODE)","epoch":130.9,"loss":0.149},{"run":"Test (NODE)","epoch":161.6,"loss":0.153},{"run":"Test (NODE)","epoch":192.4,"loss":0.151},{"run":"Test (NODE)","epoch":223.1,"loss":0.146},{"run":"Test (NODE)","epoch":253.8,"loss":0.149},{"run":"Test (NODE)","epoch":284.6,"loss":0.151},{"run":"Test (NODE)","epoch":315.3,"loss":0.149},{"run":"Test (NODE)","epoch":346.1,"loss":0.153},{"run":"Test (NODE)","epoch":364.5,"loss":0.151}
    ]},
     "mark": {"type": "line", "strokeWidth": 3, "clip": true},
     "encoding": {
      "color": {"field": "run", "type": "nominal",
       "scale": {"domain": ["Train (NODE)", "Test (NODE)"], "range": ["#008000", "#bfbf00"]},
       "legend": {"orient": "none", "legendX": -0.5, "legendY": -71, "direction": "horizontal", "title": null, "symbolType": "M-2.4,0H2.4", "symbolStrokeWidth": 3, "symbolSize": 100, "labelFontSize": 10, "labelColor": "#262626", "strokeColor": "#cccccc", "fillColor": "white", "cornerRadius": 3, "padding": 4, "columnPadding": 26, "labelOffset": 11.5}}
     }}
   ]
  }
 ]
}
